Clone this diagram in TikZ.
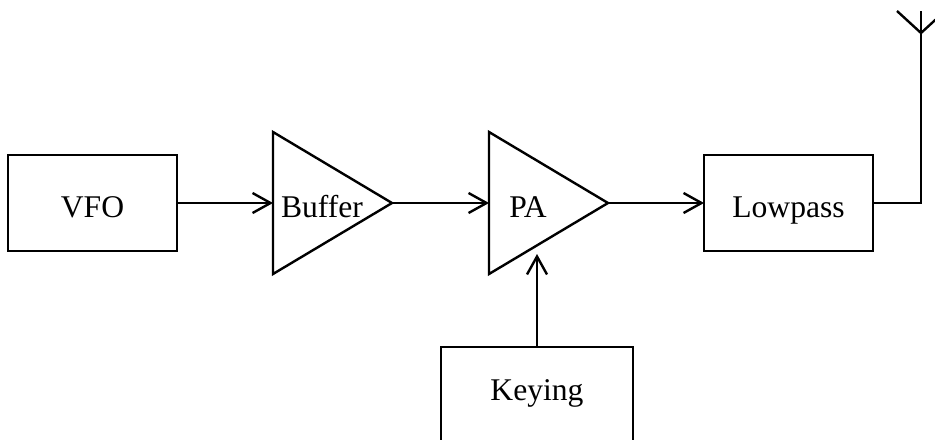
\documentclass[tikz,border=0pt]{standalone}
\usepackage{fontspec}
\setmainfont{Liberation Serif}
\usetikzlibrary{arrows.meta,shapes.geometric}

\begin{document}
\begin{tikzpicture}[x=1pt, y=1pt, line width=1.2pt,
  font=\fontsize{15.8}{18}\selectfont,
  block/.style={draw, minimum width=84.5pt, minimum height=48pt, inner sep=0pt, outer sep=0pt,
    text height=16pt, text depth=2pt},
  amp/.style={draw, isosceles triangle, isosceles triangle stretches, shape border rotate=0,
    minimum width=71pt, minimum height=59.5pt, inner sep=0pt, outer sep=0pt, anchor=west},
  sig/.style={-{Straight Barb[length=9pt, width=10pt, line width=1.2pt]}}]
\useasboundingbox (0,0) rectangle (467.5,-219.5);
\node[block] (vfo) at (46.25,-101.5) {VFO};
\node[amp] (buffer) at (136.5,-101.5) {};
\node[anchor=base] (buffer text) at (161,-108.5) {Buffer};
\node[amp] (pa) at (244.5,-101.5) {};
\node[anchor=base] (pa text) at (264,-108.5) {PA};
\node[block] (lowpass) at (394.25,-101.5) {Lowpass};
\node[block, minimum width=96pt, minimum height=50pt, text height=10pt, text depth=6.3pt] (keying)
  at (268.5,-198.5) {Keying};
\coordinate (key in) at (268.5,-127);
\coordinate (feed) at (460.5,-101.5);
\coordinate (mast) at (460.5,-16.5);
\coordinate (mast top) at (460.5,-5.5);
\draw[sig] (vfo.east) -- (buffer.west);
\draw[sig] (buffer.east) -- (pa.west);
\draw[sig] (pa.east) -- (lowpass.west);
\draw[sig] (keying.north) -- (key in);
\draw (lowpass.east) -- (feed) -- (mast top);
\draw (mast) -- ++(-12,11) (mast) -- ++(12,11);
\end{tikzpicture}
\end{document}
